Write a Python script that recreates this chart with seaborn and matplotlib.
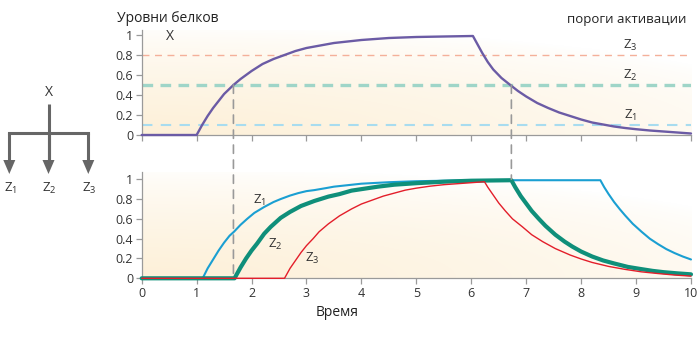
import numpy as np
import pandas as pd
import matplotlib
matplotlib.use("Agg")
import matplotlib.pyplot as plt
from matplotlib.patches import ConnectionPatch, Polygon
import seaborn as sns

# ---------------- data ----------------
T_X = [0, 1.0, 1.1, 1.2, 1.3, 1.4, 1.5, 1.67, 1.8, 2.0, 2.2, 2.4, 2.6, 2.8, 3.0, 3.25, 3.5,
       3.75, 4.0, 4.5, 5.0, 5.5, 6.03,
       6.1, 6.2, 6.3, 6.4, 6.55, 6.71, 6.85, 7.0, 7.2, 7.4, 7.6, 7.8, 8.0, 8.2, 8.4, 8.6,
       8.8, 9.0, 9.25, 9.5, 9.75, 10.0]
X = [0, 0, 0.10, 0.19, 0.27, 0.34, 0.41, 0.50, 0.56, 0.64, 0.71, 0.76, 0.80, 0.84, 0.87, 0.895, 0.92,
     0.935, 0.95, 0.97, 0.98, 0.985, 0.99,
     0.92, 0.82, 0.73, 0.655, 0.57, 0.50, 0.44, 0.385, 0.32, 0.27, 0.225, 0.19, 0.155, 0.125, 0.105, 0.085,
     0.07, 0.058, 0.045, 0.035, 0.025, 0.015]

T_Z1 = [0, 1.11, 1.2, 1.3, 1.4, 1.5, 1.6, 1.68, 1.8, 1.92, 2.05, 2.23, 2.4, 2.53, 2.7, 2.85, 3.0,
        3.14, 3.35, 3.5, 3.75, 4.0, 4.5, 5.0, 5.5, 6.0, 7.0, 8.35,
        8.42, 8.5, 8.6, 8.7, 8.8, 8.94, 9.1, 9.25, 9.4, 9.55, 9.7, 9.85, 10.0]
Z1 = [0, 0, 0.10, 0.19, 0.28, 0.36, 0.43, 0.47, 0.54, 0.60, 0.66, 0.72, 0.77, 0.80, 0.835, 0.86, 0.88,
      0.89, 0.91, 0.925, 0.94, 0.955, 0.97, 0.98, 0.985, 0.99, 0.99, 0.99,
      0.92, 0.85, 0.77, 0.70, 0.635, 0.55, 0.47, 0.40, 0.345, 0.295, 0.255, 0.22, 0.19]

T_Z2 = [0, 1.69, 1.8, 1.9, 2.0, 2.1, 2.23, 2.35, 2.53, 2.7, 2.9, 3.14, 3.4, 3.6, 3.82, 4.0, 4.3,
        4.6, 5.0, 5.5, 6.0, 6.73,
        6.8, 6.9, 7.0, 7.1, 7.23, 7.35, 7.53, 7.7, 7.84, 8.0, 8.2, 8.4, 8.6, 8.85, 9.07, 9.3,
        9.5, 9.75, 10.0]
Z2 = [0, 0, 0.11, 0.20, 0.28, 0.35, 0.45, 0.52, 0.61, 0.67, 0.73, 0.78, 0.825, 0.85, 0.885, 0.90, 0.925,
      0.945, 0.96, 0.975, 0.985, 0.99,
      0.92, 0.83, 0.755, 0.68, 0.60, 0.53, 0.44, 0.37, 0.32, 0.27, 0.22, 0.18, 0.15, 0.115, 0.095, 0.075,
      0.062, 0.05, 0.04]

T_Z3 = [0, 2.6, 2.7, 2.8, 2.9, 3.0, 3.12, 3.23, 3.4, 3.6, 3.82, 4.0, 4.2, 4.4, 4.6, 4.8, 5.0,
        5.25, 5.5, 5.75, 6.0, 6.24,
        6.3, 6.4, 6.5, 6.62, 6.75, 6.93, 7.1, 7.3, 7.53, 7.8, 8.0, 8.2, 8.5, 8.8, 9.1, 9.4,
        9.7, 10.0]
Z3 = [0, 0, 0.10, 0.18, 0.26, 0.33, 0.40, 0.47, 0.55, 0.63, 0.70, 0.75, 0.79, 0.83, 0.86, 0.89, 0.91,
      0.93, 0.945, 0.955, 0.965, 0.975,
      0.92, 0.84, 0.76, 0.68, 0.60, 0.52, 0.44, 0.37, 0.30, 0.235, 0.195, 0.16, 0.12, 0.09, 0.065, 0.048,
      0.033, 0.022]

THRESH = [0.1, 0.5, 0.8]          # Z1, Z2, Z3 activation thresholds
THRESH_LABELS = ["Z$_1$", "Z$_2$", "Z$_3$"]
CROSS_T = [1.67, 6.73]            # times where X crosses the Z2 threshold
X_TICKS = list(range(0, 11))
Y_TICKS = [0, 0.2, 0.4, 0.6, 0.8, 1]
Y_TICK_LABELS = ["0", "0.2", "0.4", "0.6", "0.8", "1"]

# ---------------- style ----------------
sns.set_theme(style="ticks")
plt.rcParams["font.family"] = ["Open Sans", "DejaVu Sans"]
plt.rcParams["mathtext.fontset"] = "custom"
plt.rcParams["mathtext.rm"] = "Open Sans"
plt.rcParams["mathtext.it"] = "Open Sans"
plt.rcParams["mathtext.default"] = "regular"

C_X = "#6b5ba5"
C_Z1 = "#1a9fd2"
C_Z2 = "#0f8f7a"
C_Z3 = "#e31e2a"
C_AX = "#9a9a9a"
C_TXT = "#333333"
TH_COLORS = ["#a8dcef", "#9fd5c8", "#f4b09a"]
TH_WIDTHS = [1.5, 2.4, 1.0]

fig = plt.figure(figsize=(7, 3.37), dpi=100)
W, H = 700, 337
ax_top = fig.add_axes([141.7 / W, 1 - 135 / H, 549.3 / W, 105 / H])
ax_bot = fig.add_axes([141.7 / W, 1 - 278.3 / H, 549.3 / W, 106 / H])

cream = np.array([253, 240, 216]) / 255.0
def background(ax, ytop):
    u = np.linspace(0, 1, 200)[None, :]
    v = np.linspace(0, 1, 100)[:, None]
    a = np.clip(1 - np.sqrt((u / 1.3) ** 2 + (v / 1.05) ** 2), 0, 1) ** 0.7
    img = (1 - a[..., None]) * np.ones(3) + a[..., None] * cream
    ax.imshow(img, extent=[0, 10, 0, ytop], origin="lower", aspect="auto", zorder=0,
              interpolation="bilinear")

for ax, ytop in [(ax_top, 1.05), (ax_bot, 1.07)]:
    background(ax, ytop)
    ax.set_xlim(0, 10)
    ax.set_ylim(0, ytop)
    ax.set_xticks(X_TICKS)
    ax.set_yticks(Y_TICKS)
    ax.set_yticklabels(Y_TICK_LABELS)
    for s in ["top", "right"]:
        ax.spines[s].set_visible(False)
    for s in ["left", "bottom"]:
        ax.spines[s].set_color(C_AX)
        ax.spines[s].set_linewidth(0.9)
    ax.tick_params(colors=C_AX, labelcolor=C_TXT, labelsize=9, length=4, width=0.9, pad=2)

ax_top.tick_params(axis="x", labelbottom=False)

# thresholds
for th, c, lw, lab in zip(THRESH, TH_COLORS, TH_WIDTHS, THRESH_LABELS):
    ax_top.axhline(th, color=c, lw=lw, dashes=(5, 4) if lw < 2 else (3.2, 2.2), zorder=1)
    ax_top.text(8.9, th + 0.1, lab, color=C_TXT, fontsize=9.5, ha="center", va="center")

# X curve
df_x = pd.DataFrame({"t": T_X, "v": X})
sns.lineplot(data=df_x, x="t", y="v", ax=ax_top, color=C_X, lw=1.7, zorder=3,
             estimator=None, sort=False, clip_on=False)
ax_top.text(0.52, 0.98, "X", color=C_TXT, fontsize=10, ha="center", va="center")

# Z curves
for tt, vv, c, lw, z in [(T_Z1, Z1, C_Z1, 1.5, 3), (T_Z2, Z2, C_Z2, 3.0, 4), (T_Z3, Z3, C_Z3, 1.0, 5)]:
    d = pd.DataFrame({"t": tt, "v": vv})
    sns.lineplot(data=d, x="t", y="v", ax=ax_bot, color=c, lw=lw, zorder=z,
                 estimator=None, sort=False, clip_on=False)
for ax in (ax_top, ax_bot):
    ax.set_xlabel("")
    ax.set_ylabel("")
ax_bot.text(2.14, 0.79, "Z$_1$", color=C_TXT, fontsize=9.5, ha="center", va="center")
ax_bot.text(2.43, 0.34, "Z$_2$", color=C_TXT, fontsize=9.5, ha="center", va="center")
ax_bot.text(3.11, 0.20, "Z$_3$", color=C_TXT, fontsize=9.5, ha="center", va="center")

# vertical dashed connectors
for t, yb in zip(CROSS_T, [0.0, 1.0]):
    cp = ConnectionPatch(xyA=(t, 0.5), coordsA=ax_top.transData,
                         xyB=(t, yb), coordsB=ax_bot.transData,
                         color="#999999", lw=1.2, linestyle=(0, (5, 4)), zorder=6)
    fig.add_artist(cp)

# texts
fig.text(117 / W, 1 - 18 / H, "Уровни белков", fontsize=10, color="#222222", ha="left", va="center")
fig.text(686 / W, 1 - 19 / H, "пороги активации", fontsize=9.5, color="#222222", ha="right", va="center")
fig.text(337 / W, 1 - 312 / H, "Время", fontsize=10, color="#222222", ha="center", va="center")

# left diagram
ax_d = fig.add_axes([0, 0, 1, 1], zorder=-1)
ax_d.set_xlim(0, W)
ax_d.set_ylim(H, 0)
ax_d.axis("off")
g = "#666666"
ax_d.plot([48.5, 48.5], [103.5, 160], color=g, lw=2.2, solid_capstyle="butt")
ax_d.plot([9.3, 88.3], [133.3, 133.3], color=g, lw=2.2, solid_capstyle="projecting")
for xa in [9.3, 48.5, 88.3]:
    ax_d.plot([xa, xa], [133.3, 162], color=g, lw=2.2, solid_capstyle="butt")
    ax_d.add_patch(Polygon([[xa - 6, 160], [xa + 6, 160], [xa, 174]], closed=True, color=g, lw=0))
ax_d.text(48.5, 93, "X", color=C_TXT, fontsize=10, ha="center", va="center")
for xa, lab in zip([9.3, 48.5, 88.3], ["Z$_1$", "Z$_2$", "Z$_3$"]):
    ax_d.text(xa + 1, 188.5, lab, color=C_TXT, fontsize=9.5, ha="center", va="center")

fig.savefig("out.png", dpi=100)
